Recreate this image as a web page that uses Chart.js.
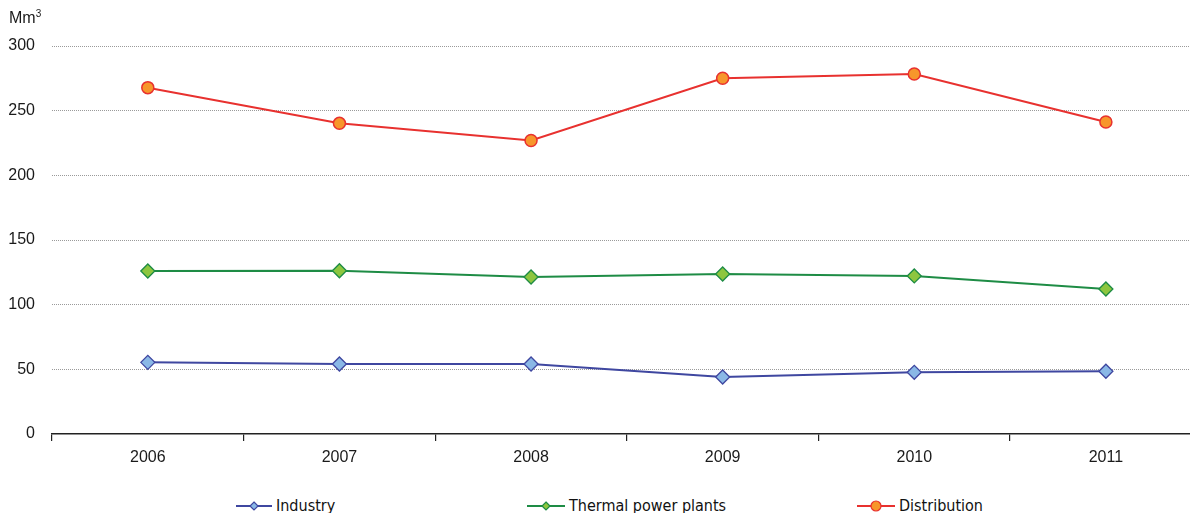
<!DOCTYPE html>
<html>
<head>
<meta charset="utf-8">
<script src="https://cdn.jsdelivr.net/npm/chart.js@4/dist/chart.umd.min.js"></script>
<style>
  html, body { margin: 0; padding: 0; background: #fff; overflow: hidden; }
  body { width: 1190px; height: 513px; position: relative; font-family: "Liberation Sans", Arial, sans-serif; color: #1a1a1a; }
  #wrap { position: absolute; left: 0; top: 0; width: 1210px; height: 475px; }
  #unit { position: absolute; left: 9px; top: 8px; font-size: 16px; }
  #unit sup { font-size: 10px; }
  .leg { position: absolute; top: 496px; font-family: "DejaVu Sans Condensed", "DejaVu Sans", sans-serif; font-stretch: condensed; font-size: 16px; color: #111; display: flex; align-items: center; white-space: nowrap; }
  .leg svg { margin-right: 4px; }
</style>
</head>
<body>
<div id="wrap"><canvas id="chart"></canvas></div>
<div id="unit">Mm<sup>3</sup></div>
<div class="leg" style="left:236px"><svg width="36" height="12"><line x1="0" y1="6" x2="36" y2="6" stroke="#3f47a0" stroke-width="2"/><path d="M18 2 L22 6 L18 10 L14 6 Z" fill="#8ab8e6" stroke="#3f47a0" stroke-width="1.2"/></svg>Industry</div>
<div class="leg" style="left:527px"><svg width="38" height="12"><line x1="0" y1="6" x2="38" y2="6" stroke="#1e8c45" stroke-width="2"/><path d="M19 2 L23 6 L19 10 L15 6 Z" fill="#8dc63f" stroke="#1e8c45" stroke-width="1.2"/></svg>Thermal power plants</div>
<div class="leg" style="left:857px"><svg width="38" height="14"><line x1="0" y1="7" x2="38" y2="7" stroke="#e8312f" stroke-width="2"/><circle cx="19" cy="7" r="5" fill="#f7962b" stroke="#e8312f" stroke-width="1.2"/></svg>Distribution</div>
<script>
const years = ["2006", "2007", "2008", "2009", "2010", "2011"];
const industry = [55.4, 54.1, 54.1, 44.1, 47.7, 48.5];
const thermal = [126.0, 126.2, 121.4, 123.7, 122.2, 112.1];
const distribution = [267.8, 240.2, 227.0, 275.0, 278.4, 241.2];
const yTicks = [0, 50, 100, 150, 200, 250, 300];

const tickFont = { family: "Liberation Sans", size: 16 };

new Chart(document.getElementById("chart"), {
  type: "line",
  data: {
    labels: years,
    datasets: [
      {
        label: "Industry",
        data: industry,
        borderColor: "#3f47a0",
        borderWidth: 2,
        pointStyle: "rectRot",
        pointRadius: 7,
        pointBackgroundColor: "#8ab8e6",
        pointBorderColor: "#3f47a0",
        pointBorderWidth: 1.3,
        tension: 0
      },
      {
        label: "Thermal power plants",
        data: thermal,
        borderColor: "#1e8c45",
        borderWidth: 2,
        pointStyle: "rectRot",
        pointRadius: 7,
        pointBackgroundColor: "#8dc63f",
        pointBorderColor: "#1e8c45",
        pointBorderWidth: 1.3,
        tension: 0
      },
      {
        label: "Distribution",
        data: distribution,
        borderColor: "#e8312f",
        borderWidth: 2,
        pointStyle: "circle",
        pointRadius: 6,
        pointBackgroundColor: "#f7962b",
        pointBorderColor: "#e8312f",
        pointBorderWidth: 1.5,
        tension: 0
      }
    ]
  },
  options: {
    responsive: true,
    maintainAspectRatio: false,
    animation: false,
    layout: { padding: { top: 46, left: 0, right: 0, bottom: 0 } },
    plugins: {
      legend: { display: false },
      tooltip: { enabled: false }
    },
    scales: {
      x: {
        offset: true,
        grid: {
          offset: true,
          drawOnChartArea: false,
          drawTicks: true,
          tickLength: 7,
          color: "#222",
          lineWidth: 1.2
        },
        border: { display: true, color: "#222", width: 1.5 },
        ticks: {
          color: "#1a1a1a",
          font: tickFont,
          padding: 7
        },
        afterFit: function (scale) { scale.height = 41; }
      },
      y: {
        min: 0,
        max: 300,
        afterBuildTicks: function (scale) {
          scale.ticks = yTicks.map(v => ({ value: v }));
        },
        grid: {
          drawTicks: false,
          color: ctx => ctx.tick && ctx.tick.value === 0 ? "rgba(0,0,0,0)" : "#9a9a9a",
          lineWidth: 1
        },
        border: { display: false, dash: [1, 1] },
        ticks: {
          color: "#1a1a1a",
          font: tickFont,
          padding: 17
        },
        afterFit: function (scale) { scale.width = 52; }
      }
    }
  }
});
</script>
</body>
</html>
